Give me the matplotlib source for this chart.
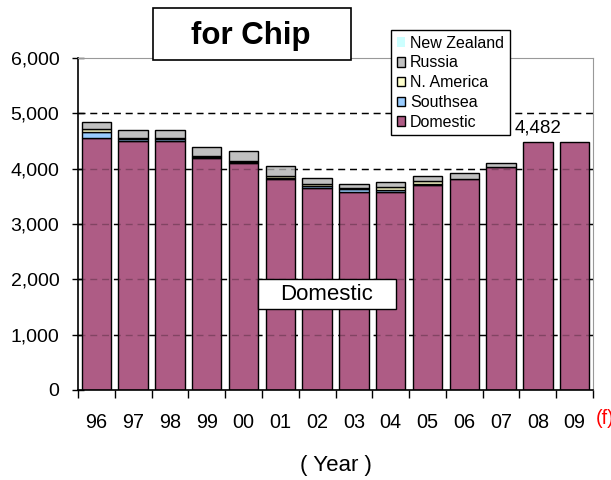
import numpy as np
import matplotlib.pyplot as plt
from matplotlib.patches import Rectangle

plt.rcParams['font.family'] = ['Liberation Sans', 'DejaVu Sans']

years = ['96', '97', '98', '99', '00', '01', '02', '03', '04', '05', '06', '07', '08', '09']
domestic = [4550, 4500, 4500, 4190, 4100, 3815, 3645, 3575, 3580, 3710, 3810, 4025, 4482, 4482]
southsea = [110, 45, 45, 20, 15, 20, 40, 50, 40, 20, 0, 0, 0, 0]
n_america = [50, 15, 10, 15, 15, 40, 30, 20, 40, 50, 0, 0, 0, 0]
russia = [130, 145, 150, 175, 195, 175, 120, 85, 100, 85, 105, 85, 0, 0]
new_zealand = [0, 0, 0, 0, 0, 0, 0, 0, 0, 0, 0, 0, 0, 0]

series = [
    ('Domestic', domestic, '#AE5C85'),
    ('Southsea', southsea, '#99CCFF'),
    ('N. America', n_america, '#FFFFCC'),
    ('Russia', russia, '#C0C0C0'),
    ('New Zealand', new_zealand, '#CCFFFF'),
]

fig = plt.figure(figsize=(6.11, 4.8), dpi=100)
ax = fig.add_axes([78 / 611, 90 / 480, 515 / 611, 332 / 480])

x = np.arange(len(years))
bottom = np.zeros(len(years))
handles = []
for name, vals, col in series:
    vals = np.array(vals, dtype=float)
    lw = [1.0 if v > 0 else 0 for v in vals]
    b = ax.bar(x, vals, 0.8, bottom=bottom, color=col, edgecolor='black',
               linewidth=lw, zorder=2, label=name)
    handles.append(b)
    bottom += vals

# dashed gridlines (black between bars, faint over bars)
for yv in [1000, 2000, 3000, 4000, 5000]:
    ax.axhline(yv, color='black', lw=1, ls=(0, (5, 3.5)), zorder=1)
    ax.axhline(yv, color='black', lw=1, ls=(0, (5, 3.5)), alpha=0.25, zorder=3)

ax.annotate('4,482', (12, domestic[12]), xytext=(0, 4), textcoords='offset points',
            ha='center', va='bottom', fontsize=13.5)

ax.set_xlim(-0.5, len(years) - 0.5)
ax.set_ylim(0, 6000)
ax.set_yticks(range(0, 6001, 1000))
ax.set_yticklabels(['{:,}'.format(v) for v in range(0, 6001, 1000)], fontsize=14)
ax.tick_params(axis='y', direction='inout', length=8, width=1, pad=9.5)

ax.set_xticks(np.arange(-0.5, len(years), 1.0))
ax.set_xticklabels([])
ax.tick_params(axis='x', which='major', direction='out', length=6, width=1)
ax.set_xticks(x, minor=True)
ax.set_xticklabels(years, minor=True, fontsize=14.3)
ax.tick_params(axis='x', which='minor', length=0, pad=16.5)

ax.spines['top'].set_color('#999999')
ax.spines['right'].set_color('#999999')
ax.spines['left'].set_linewidth(1.2)
ax.spines['bottom'].set_linewidth(1.2)

ax.text(1.005, -0.087, '(f)', transform=ax.transAxes, color='red',
        fontsize=14.3, ha='left', va='center')

# "Domestic" label box
ax.add_patch(Rectangle((0.3495, 0.244), 0.268, 0.09, transform=ax.transAxes,
                       facecolor='white', edgecolor='black', lw=1, zorder=4))
ax.text(0.4835, 0.289, 'Domestic', transform=ax.transAxes, ha='center', va='center',
        fontsize=16, zorder=5)

leg = ax.legend(handles[::-1], [s[0] for s in series][::-1], loc='upper left',
                bbox_to_anchor=((391 - 78) / 515, (390 - 30) / 332), fontsize=11.5,
                frameon=True, fancybox=False, edgecolor='black', framealpha=1,
                handlelength=0.55, handleheight=0.55, handletextpad=0.3,
                labelspacing=0.3, borderpad=0.35, borderaxespad=0)
leg.get_frame().set_linewidth(1)
leg.set_zorder(6)

# title box
fig.patches.append(Rectangle((153 / 611, (480 - 60) / 480), 198 / 611, 52 / 480,
                             transform=fig.transFigure, facecolor='white',
                             edgecolor='black', lw=1.2, zorder=10))
fig.text(251 / 611, (480 - 44) / 480, 'for Chip', fontsize=22.5, fontweight='bold',
         ha='center', va='baseline', zorder=11)

fig.text(335.5 / 611, (480 - 465) / 480, '( Year )', fontsize=16, ha='center', va='center')

plt.savefig('out.png', dpi=100)
